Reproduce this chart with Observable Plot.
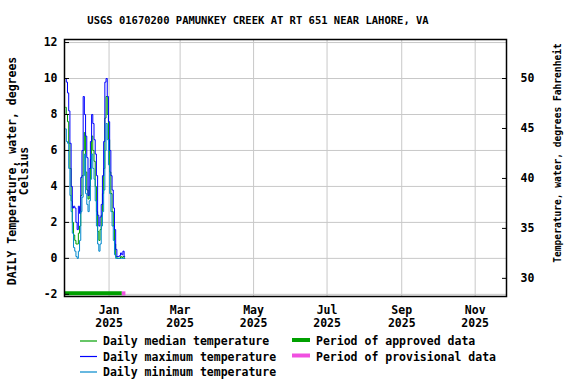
<!DOCTYPE html>
<html>
<head>
<meta charset="utf-8">
<script src="https://cdn.jsdelivr.net/npm/d3@7"></script>
<script src="https://cdn.jsdelivr.net/npm/@observablehq/plot@0.6"></script>
<style>
  body { margin: 0; background: white; }
  #wrap { width: 576px; height: 384px; position: relative; background: white; font-family: "DejaVu Sans Mono", monospace; font-weight: bold; }
  #title { position: absolute; top: 14px; left: 0; width: 516px; text-align: center; font-size: 10.5px; line-height: 12px; color: black; }
  #chart { position: absolute; top: 30px; left: 0; }
  #legend { position: absolute; top: 330px; left: 0; }
</style>
</head>
<body>
<div id="wrap">
  <div id="title"></div>
  <div id="chart"></div>
  <div id="legend"></div>
</div>
<script>
// ---- Data ----
const titleText = "USGS 01670200 PAMUNKEY CREEK AT RT 651 NEAR LAHORE, VA";
const startDate = "2024-11-26"; // first daily value
const dailyMax = [10.0, 9.8, 9.2, 8.2, 6.4, 4.0, 2.8, 2.9, 2.8, 2.0,
                  1.6, 2.9, 2.5, 4.5, 6.0, 9.0, 8.0, 6.8, 5.6, 3.5,
                  5.0, 6.5, 8.0, 7.5, 6.6, 5.8, 4.6, 2.4, 1.8, 2.3,
                  3.0, 4.6, 6.5, 9.8, 10.0, 9.0, 7.6, 6.0, 4.6, 3.8,
                  2.8, 1.6, 0.5, 0.1, 0.1, 0.15, 0.3, 0.2, 0.4, 0.1];
const dailyMedian = [8.4, 8.0, 7.6, 6.4, 5.0, 3.2, 2.0, 1.3, 1.0, 0.8,
                     0.8, 1.4, 1.8, 3.5, 4.6, 6.0, 7.0, 4.8, 3.8, 3.3,
                     4.0, 5.5, 6.8, 6.0, 5.4, 4.0, 2.6, 1.5, 1.0, 1.6,
                     2.4, 3.6, 5.0, 7.8, 9.0, 8.0, 6.6, 4.8, 3.6, 2.6,
                     1.8, 0.8, 0.1, 0.0, 0.0, 0.0, 0.1, 0.05, 0.1, 0.0];
const dailyMin = [7.2, 6.5, 6.4, 5.0, 3.5, 2.6, 1.4, 0.6, 0.4, 0.1,
                  0.0, 0.4, 1.0, 2.6, 3.4, 4.6, 5.8, 3.6, 3.0, 2.6,
                  3.2, 4.4, 5.8, 5.0, 4.4, 3.2, 1.8, 0.8, 0.4, 0.8,
                  1.8, 2.6, 3.8, 6.0, 7.5, 6.6, 5.2, 3.6, 2.6, 1.8,
                  1.0, 0.2, 0.0, 0.0, 0.0, 0.0, 0.0, 0.0, 0.0, 0.0];
const periodStart = ["2024-11-25", "2025-01-12"];
const periodEnd   = ["2025-01-12", "2025-01-15"];
const periodType  = ["approved", "provisional"];
const periodLevel = -2;
const xDomain = ["2024-11-25", "2025-11-27"];
const xTickDates = ["2025-01-01", "2025-03-01", "2025-05-01", "2025-07-01", "2025-09-01", "2025-11-01"];
const monthNames = ["Jan","Feb","Mar","Apr","May","Jun","Jul","Aug","Sep","Oct","Nov","Dec"];
const yTicksC = [-2, 0, 2, 4, 6, 8, 10, 12];
const yTicksF = [30, 35, 40, 45, 50];
const leftLabel = "DAILY Temperature, water, degrees\nCelsius";
const rightLabel = "Temperature, water, degrees Fahrenheit";
const legendItems = [
  {label: "Daily median temperature", color: "#00a000", kind: "line", col: 0, row: 0},
  {label: "Daily maximum temperature", color: "#0000ff", kind: "line", col: 0, row: 1},
  {label: "Daily minimum temperature", color: "#0088cc", kind: "line", col: 0, row: 2},
  {label: "Period of approved data", color: "#00a000", kind: "bar", col: 1, row: 0},
  {label: "Period of provisional data", color: "#f050e0", kind: "bar", col: 1, row: 1}
];
const colors = {median: "#00a000", max: "#0000ff", min: "#0088cc", approved: "#00a000", provisional: "#f050e0"};

// ---- Build tables ----
const t0 = d3.utcParse("%Y-%m-%d")(startDate);
const rows = dailyMax.map((v, i) => ({
  date: d3.utcDay.offset(t0, i), max: v, median: dailyMedian[i], min: dailyMin[i]
}));
const parse = d3.utcParse("%Y-%m-%d");
const periods = periodType.map((t, i) => ({start: parse(periodStart[i]), end: parse(periodEnd[i]), type: t, level: periodLevel}));
const xTicks = xTickDates.map(parse);
const c2f = c => c * 9 / 5 + 32;
const f2c = f => (f - 32) * 5 / 9;

document.getElementById("title").textContent = titleText;

const font = "DejaVu Sans Mono";
const chart = Plot.plot({
  width: 576,
  height: 300,
  marginTop: 9,
  marginBottom: 34,
  marginLeft: 64,
  marginRight: 70,
  style: {fontFamily: font, fontSize: "11.5px", fontWeight: "bold", background: "white", color: "black", overflow: "visible"},
  x: {type: "utc", domain: xDomain.map(parse)},
  y: {domain: [-2.12, 12.17]},
  marks: [
    Plot.gridY(yTicksC, {stroke: "#c8c8c8", strokeOpacity: 1}),
    Plot.gridX(xTicks, {stroke: "#c8c8c8", strokeOpacity: 1}),
    Plot.line(rows, {x: "date", y: "median", stroke: colors.median, strokeWidth: 1, curve: "step"}),
    Plot.line(rows, {x: "date", y: "max", stroke: colors.max, strokeWidth: 1, curve: "step"}),
    Plot.line(rows, {x: "date", y: "min", stroke: colors.min, strokeWidth: 1, curve: "step"}),
    Plot.ruleY(periods, {y: "level", x1: "start", x2: "end", stroke: d => colors[d.type], strokeWidth: 4, dy: -1}),
    Plot.frame({stroke: "black", strokeWidth: 1.5}),
    // left axis: labels + inward ticks
    Plot.axisY(yTicksC, {anchor: "left", tickSize: 0, tickPadding: 7, label: null, tickFormat: d => String(d)}),
    Plot.axisY(yTicksC, {anchor: "left", tickSize: 5, dx: 5, label: null, tickFormat: () => ""}),
    // right axis in Fahrenheit
    Plot.axisY(yTicksF.map(f2c), {anchor: "right", tickSize: 0, tickPadding: 14, label: null, tickFormat: c => String(Math.round(c2f(c)))}),
    Plot.axisY(yTicksF.map(f2c), {anchor: "right", tickSize: 5, dx: -5, label: null, tickFormat: () => ""}),
    // bottom axis
    Plot.axisX(xTicks, {anchor: "bottom", tickSize: 0, tickPadding: 8, label: null, lineHeight: 1.13,
      tickFormat: d => monthNames[d.getUTCMonth()] + "\n" + d.getUTCFullYear()}),
    // axis titles
    Plot.text([leftLabel], {frameAnchor: "left", textAnchor: "middle", lineAnchor: "middle", rotate: -90, dx: -46, dy: 3, lineHeight: 1.05, fontSize: 11.5, fontWeight: "bold", fill: "black"}),
    Plot.text([rightLabel], {frameAnchor: "right", textAnchor: "middle", lineAnchor: "middle", rotate: -90, dx: 51, dy: -15, fontSize: 9.6, fontWeight: "bold", fill: "black"})
  ]
});
document.getElementById("chart").appendChild(chart);

// ---- Legend ----
const lg = d3.select("#legend").append("svg").attr("width", 576).attr("height", 54)
  .style("font-family", font).style("font-weight", "bold").style("font-size", "11.5px");
const colX = [{x1: 80, x2: 97, tx: 103}, {x1: 292, x2: 310, tx: 316}];
const rowY = [11, 26.5, 42];
legendItems.forEach(it => {
  const c = colX[it.col];
  const y = it.kind === "bar" ? rowY[it.row] - 1 : rowY[it.row];
  lg.append("line").attr("x1", c.x1).attr("x2", c.x2).attr("y1", y).attr("y2", y)
    .attr("stroke", it.color).attr("stroke-width", it.kind === "bar" ? 4 : 1.2);
  lg.append("text").attr("x", c.tx).attr("y", rowY[it.row]).attr("dy", "0.35em").attr("fill", "black").text(it.label);
});
</script>
</body>
</html>
